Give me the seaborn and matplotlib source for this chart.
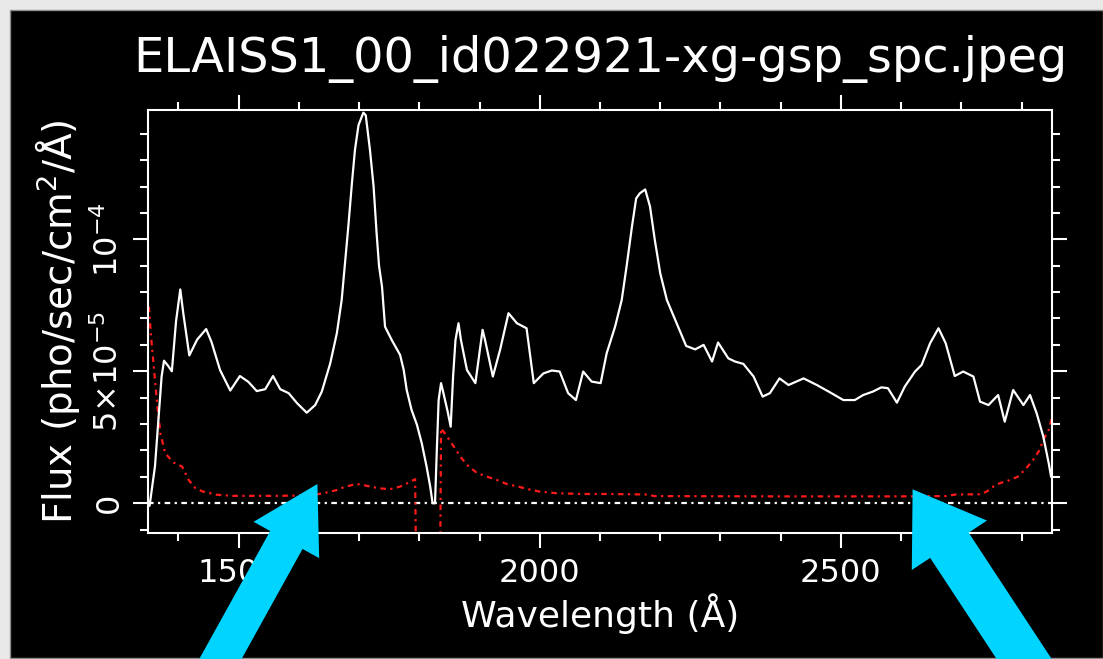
"""
Spectrum plot of ELAISS1_00_id022921 (grism spectrum, flux + error)
with two cyan callout arrows, on the black IDL-style background.
"""

import numpy as np
import pandas as pd
import matplotlib
matplotlib.use("Agg")
import matplotlib.pyplot as plt
import seaborn as sns
from matplotlib.patches import FancyArrow, Rectangle
from matplotlib.ticker import FixedLocator, MultipleLocator

# ── Data (flux values are in units of 1e-5 pho/sec/cm^2/A) ────────────────

TITLE = "ELAISS1_00_id022921-xg-gsp_spc.jpeg"
FLUX_UNIT = 1e-5

wavelength = [
    1352, 1361, 1372, 1376, 1383, 1389, 1396, 1403, 1408, 1418, 1431, 1446,
    1455, 1469, 1486, 1502, 1516, 1530, 1544, 1557, 1569, 1583, 1597, 1613,
    1627, 1638, 1652, 1663, 1671, 1677, 1682, 1688, 1693, 1699, 1707, 1711,
    1718, 1724, 1729, 1733, 1738, 1741, 1743, 1754, 1768, 1774, 1779, 1787,
    1796, 1804, 1812, 1818, 1822, 1826, 1829, 1832, 1836, 1840, 1847, 1852,
    1856, 1860, 1865, 1869, 1879, 1893, 1905, 1909, 1922, 1934, 1948, 1962,
    1978, 1990, 2006, 2020, 2033, 2047, 2060, 2072, 2086, 2101, 2111, 2125,
    2136, 2144, 2153, 2160, 2166, 2175, 2183, 2191, 2200, 2211, 2225, 2243,
    2258, 2272, 2286, 2296, 2313, 2324, 2338, 2355, 2370, 2382, 2398, 2413,
    2438, 2460, 2482, 2504, 2523, 2537, 2553, 2567, 2578, 2593, 2606, 2623,
    2634, 2648, 2662, 2674, 2689, 2703, 2720, 2731, 2745, 2761, 2772, 2786,
    2803, 2814, 2825, 2836, 2845, 2849,
]
flux = [
    -0.1, 1.4, 4.8, 5.4, 5.2, 5.0, 6.9, 8.1, 7.2, 5.6, 6.2, 6.6,
    6.1, 5.05, 4.27, 4.82, 4.6, 4.25, 4.32, 4.82, 4.32, 4.17, 3.79, 3.43,
    3.72, 4.23, 5.3, 6.44, 7.7, 9.22, 10.48, 12.12, 13.38, 14.33, 14.8, 14.7,
    13.38, 12.0, 10.23, 9.0, 8.2, 7.32, 6.69, 6.19, 5.62, 5.05, 4.29, 3.54,
    2.97, 2.27, 1.39, 0.63, 0.0, 0.0, 2.02, 3.91, 4.55, 4.17, 3.47, 2.9,
    4.8, 6.19, 6.82, 6.19, 5.05, 4.55, 6.57, 6.19, 4.8, 5.81, 7.2, 6.82,
    6.63, 4.55, 4.92, 5.03, 4.99, 4.17, 3.91, 4.99, 4.61, 4.55, 5.68, 6.69,
    7.7, 8.96, 10.48, 11.55, 11.74, 11.89, 11.24, 9.97, 8.71, 7.7, 6.94, 5.96,
    5.83, 6.0, 5.37, 6.09, 5.49, 5.37, 5.28, 4.8, 4.04, 4.17, 4.73, 4.48,
    4.73, 4.48, 4.2, 3.91, 3.91, 4.1, 4.23, 4.39, 4.36, 3.81, 4.42, 4.99,
    5.24, 6.06, 6.63, 6.06, 4.82, 4.99, 4.8, 3.85, 3.72, 4.1, 3.09, 4.29,
    3.72, 4.1, 3.41, 2.53, 1.52, 1.0,
]

err_wavelength = [
    1351, 1354, 1359, 1365, 1370, 1378, 1392, 1406, 1417, 1428, 1441, 1464,
    1490, 1560, 1620, 1641, 1663, 1677, 1696, 1713, 1732, 1751, 1768, 1782,
    1793, 1797, 1833, 1836, 1846, 1857, 1868, 1879, 1895, 1912, 1929, 1945,
    1964, 1981, 2000, 2028, 2072, 2120, 2180, 2190, 2400, 2600, 2675, 2690,
    2731, 2742, 2753, 2764, 2781, 2794, 2808, 2819, 2830, 2836, 2845, 2850,
]
err_flux = [
    7.45, 6.44, 5.18, 3.66, 2.65, 1.89, 1.54, 1.39, 0.88, 0.57, 0.44, 0.32,
    0.28, 0.28, 0.3, 0.38, 0.5, 0.63, 0.73, 0.66, 0.57, 0.53, 0.63, 0.78,
    0.91, -8.0, -8.0, 2.84, 2.53, 2.15, 1.77, 1.45, 1.16, 1.01, 0.88, 0.73,
    0.63, 0.53, 0.44, 0.38, 0.35, 0.35, 0.33, 0.27, 0.26, 0.26, 0.27, 0.33,
    0.34, 0.44, 0.63, 0.76, 0.88, 1.01, 1.33, 1.64, 2.02, 2.4, 2.78, 3.22,
]

x_major = [1500, 2000, 2500]
y_major = [0, 5e-5, 1e-4]
y_major_labels = ["0", r"5$\times$10$^{-5}$", r"10$^{-4}$"]

# ── Style ─────────────────────────────────────────────────────────────────

sns.set_style("dark", {"axes.facecolor": "black", "figure.facecolor": "black"})
plt.rcParams["font.family"] = ["DejaVu Sans"]
plt.rcParams["mathtext.default"] = "regular"

CYAN = "#00d4ff"
RED = "#ff1a1a"
DASHDOT = (0, (2.5, 2, 1, 2))


def px_arrow(fig, tail, tip, width, head_width, head_length):
    """Callout arrow given in image pixels (origin top-left)."""
    h = fig.get_figheight() * fig.dpi
    x0, y0 = tail[0] / fig.dpi, (h - tail[1]) / fig.dpi
    x1, y1 = tip[0] / fig.dpi, (h - tip[1]) / fig.dpi
    arrow = FancyArrow(
        x0, y0, x1 - x0, y1 - y0,
        width=width / fig.dpi,
        head_width=head_width / fig.dpi,
        head_length=head_length / fig.dpi,
        length_includes_head=True,
        transform=fig.dpi_scale_trans,
        facecolor=CYAN, edgecolor="none", zorder=10,
    )
    fig.add_artist(arrow)


# ── Plot ──────────────────────────────────────────────────────────────────

spec = pd.DataFrame({"wavelength": wavelength, "flux": np.array(flux) * FLUX_UNIT})
err = pd.DataFrame({"wavelength": err_wavelength, "flux": np.array(err_flux) * FLUX_UNIT})

fig = plt.figure(figsize=(11.03, 6.59), dpi=100)
fig.patch.set_facecolor("#e9e9e9")
fig.add_artist(Rectangle((10 / 1103, 1 / 659), 1 - 10 / 1103, 648 / 659,
                         transform=fig.transFigure, facecolor="black",
                         edgecolor="#8c8c8c", lw=1, zorder=-5))

ax = fig.add_axes([0.1345, 0.1907, 0.819, 0.6424])
ax.set_facecolor("black")

ax.axhline(0, color="white", lw=1.6, ls=DASHDOT, zorder=1)
sns.lineplot(data=err, x="wavelength", y="flux", color=RED, lw=1.6,
             linestyle=DASHDOT, estimator=None, ax=ax, zorder=2)
sns.lineplot(data=spec, x="wavelength", y="flux", color="white", lw=1.6,
             estimator=None, ax=ax, zorder=3)

ax.set_xlim(1350, 2850)
ax.set_ylim(-1.14e-5, 1.49e-4)

ax.xaxis.set_major_locator(FixedLocator(x_major))
ax.xaxis.set_minor_locator(MultipleLocator(100))
ax.yaxis.set_major_locator(FixedLocator(y_major))
ax.yaxis.set_minor_locator(MultipleLocator(1e-5))
ax.set_xticklabels([str(v) for v in x_major])
ax.set_yticklabels(y_major_labels, rotation=90, va="center")

ax.tick_params(which="both", direction="out", color="white", width=1.5,
               top=True, right=True, bottom=True, left=True,
               labelcolor="white", labelsize=23)
ax.tick_params(which="major", length=11)
ax.tick_params(which="minor", length=5.5)
ax.tick_params(axis="x", which="major", pad=7)
ax.tick_params(axis="y", which="major", pad=6)

for spine in ax.spines.values():
    spine.set_color("white")
    spine.set_linewidth(1.5)
ax.grid(False)

ax.set_title(TITLE, fontsize=34.5, color="white", pad=0, y=1.1205, va="center")
ax.set_xlabel("Wavelength (Å)", fontsize=26, color="white", va="center")
ax.xaxis.set_label_coords(0.5, -0.19)
ax.set_ylabel(r"Flux (pho/sec/cm$^2$/Å)", fontsize=28, color="white",
              va="center", ha="center", rotation=90, rotation_mode="default")
ax.yaxis.set_label_coords(-0.101, 0.499)

# callout arrows (image pixel coordinates)
px_arrow(fig, (197.7, 700), (317.4, 484), 37, 75, 64)
px_arrow(fig, (1051.1, 700), (912.6, 489.3), 46, 90, 67)

fig.savefig("out.png", dpi=100, facecolor=fig.get_facecolor())
plt.close(fig)
